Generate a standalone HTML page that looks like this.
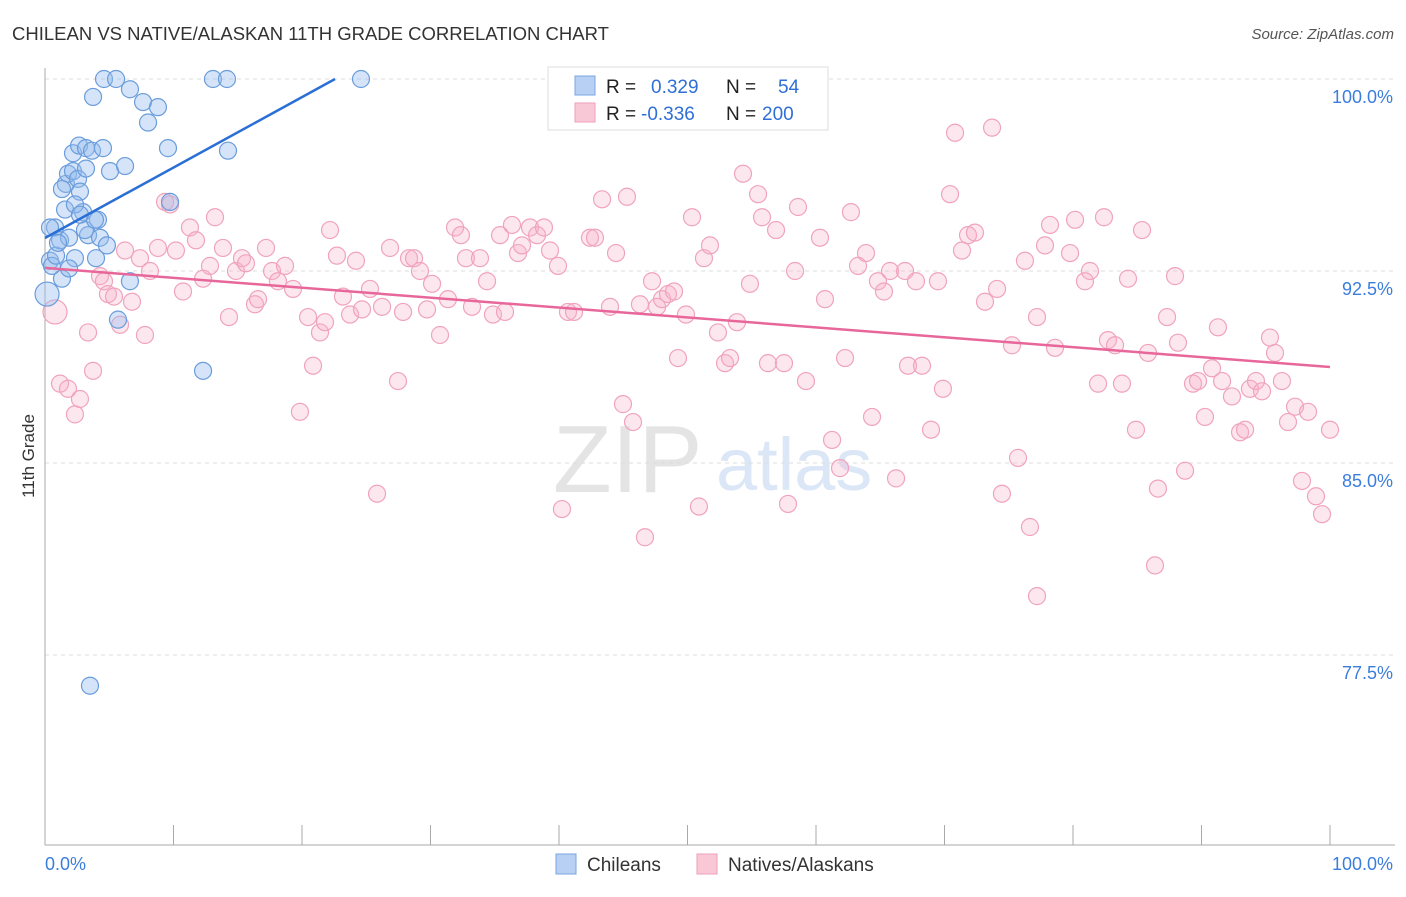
<!DOCTYPE html>
<html><head><meta charset="utf-8"><style>
body{margin:0;background:#fff;font-family:"Liberation Sans",sans-serif;}
svg text{font-family:"Liberation Sans",sans-serif;}
</style></head><body>
<svg id="chart" width="1406" height="892" xmlns="http://www.w3.org/2000/svg">
<text x="12" y="40" font-size="18.5" fill="#333">CHILEAN VS NATIVE/ALASKAN 11TH GRADE CORRELATION CHART</text>
<text x="1394" y="39" font-size="15" fill="#555" font-style="italic" text-anchor="end">Source: ZipAtlas.com</text>
<g>
<text x="553" y="492" font-size="96" fill="#e4e4e4" font-family="Liberation Serif,serif">ZIP</text>
<text x="716" y="490" font-size="74" fill="#dbe6f6">atlas</text>
</g>
<g id="grid"></g>
<g id="axes"></g>
<g id="pts"></g>
<g id="lines"></g>
<text transform="translate(34,456) rotate(-90)" font-size="17" fill="#333" text-anchor="middle">11th Grade</text>
<g>
<rect x="548" y="67" width="280" height="63" fill="#fff" stroke="#ddd"/>
<rect x="575" y="76" width="20" height="19" fill="#b8d0f4" stroke="#7aa4e0"/>
<rect x="575" y="103" width="20" height="19" fill="#f9c8d6" stroke="#ef9fb8"/>
<text x="606" y="93" font-size="19" fill="#222">R =</text>
<text x="651" y="93" font-size="19" fill="#2f6fd6">0.329</text>
<text x="726" y="93" font-size="19" fill="#222">N =</text>
<text x="778" y="93" font-size="19" fill="#2f6fd6">54</text>
<text x="606" y="120" font-size="19" fill="#222">R =</text>
<text x="641" y="120" font-size="19" fill="#2f6fd6">-0.336</text>
<text x="726" y="120" font-size="19" fill="#222">N =</text>
<text x="762" y="120" font-size="19" fill="#2f6fd6">200</text>
</g>
<g>
<rect x="556" y="854" width="20" height="20" fill="#b8d0f4" stroke="#7aa4e0"/>
<text x="587" y="871" font-size="19" fill="#333">Chileans</text>
<rect x="697" y="854" width="20" height="20" fill="#f9c8d6" stroke="#ef9fb8"/>
<text x="728" y="871" font-size="19" fill="#333">Natives/Alaskans</text>
</g>
</svg>
<script>
const yTicks=[100,92.5,85,77.5];
const yTickLabels=["100.0%","92.5%","85.0%","77.5%"];
const xLabels=["0.0%","100.0%"];
const blueX=[0.16,0.39,0.54,0.78,0.86,1.17,1.32,1.56,1.63,1.79,1.87,2.18,2.18,2.33,2.57,2.65,2.72,2.96,3.19,3.19,3.35,3.66,3.74,3.97,4.12,4.28,4.51,4.59,4.82,5.06,5.53,5.68,6.23,6.61,6.61,7.63,8.02,8.79,9.57,9.73,12.30,13.07,14.16,14.24,24.59,3.50,0.39,1.01,1.32,1.87,2.33,3.11,3.89,2.72];
const blueY=[91.6,92.9,92.7,94.2,93.1,93.7,92.2,94.9,95.9,96.3,93.8,97.1,96.4,93.0,96.1,97.4,95.6,94.8,96.5,97.3,93.9,97.2,99.3,93.0,94.5,93.8,97.3,100,93.5,96.4,100,90.6,96.6,99.6,92.1,99.1,98.3,98.9,97.3,95.2,88.6,100,100,97.2,100,76.3,94.2,93.6,95.7,92.6,95.1,94.1,94.5,94.7];
const pinkX=[0.78,1.17,1.79,2.33,2.72,3.35,3.74,4.28,4.59,4.90,5.37,5.84,6.23,6.77,7.39,7.78,8.17,8.79,9.34,9.73,10.19,10.74,11.28,11.75,12.30,12.84,13.23,13.85,14.32,14.86,15.33,15.64,16.34,16.58,17.20,17.67,18.13,18.68,19.30,19.84,20.47,20.86,21.40,21.79,22.18,22.72,23.19,23.74,24.20,24.67,25.29,25.84,26.23,26.85,27.47,27.86,28.33,28.72,29.18,29.73,30.12,30.74,31.36,31.91,32.37,32.76,33.23,33.85,34.40,34.86,35.41,35.80,36.34,36.81,37.12,37.74,38.29,38.83,39.30,39.92,40.23,40.70,41.17,42.41,42.80,43.35,43.97,44.44,44.98,45.29,45.76,46.30,46.69,47.24,47.63,48.02,48.48,48.95,49.26,49.88,50.35,50.89,51.28,51.75,52.37,52.92,53.31,53.85,54.32,54.86,55.49,55.80,56.26,56.89,57.51,57.82,58.37,58.60,59.22,60.31,60.70,61.25,61.87,62.26,62.72,63.27,63.89,64.36,64.82,65.29,65.76,66.23,66.93,67.16,67.78,68.25,68.95,69.49,69.88,70.43,70.82,71.36,71.83,72.37,73.15,73.70,74.09,74.47,75.25,75.72,76.26,76.65,77.20,77.20,77.82,78.21,78.60,79.77,80.16,80.93,81.32,81.95,82.41,82.72,83.27,83.81,84.28,84.90,85.37,85.84,86.38,86.61,87.32,87.94,88.17,88.72,89.34,89.73,90.27,90.82,91.28,91.60,92.37,93.00,93.39,93.77,94.24,94.71,95.33,95.72,96.26,96.73,97.28,97.82,98.29,98.91,99.38,100.0,60.16];
const pinkY=[90.9,88.1,87.9,86.9,87.5,90.1,88.6,92.3,92.1,91.6,91.5,90.4,93.3,91.3,93.0,90.0,92.5,93.4,95.2,95.1,93.3,91.7,94.2,93.7,92.2,92.7,94.6,93.4,90.7,92.5,93.0,92.8,91.2,91.4,93.4,92.5,92.1,92.7,91.8,87.0,90.7,88.8,90.1,90.5,94.1,93.1,91.5,90.8,92.9,91.0,91.8,83.8,91.1,93.4,88.2,90.9,93.0,93.0,92.5,91.0,92.0,90.0,91.4,94.2,93.9,93.0,91.1,93.0,92.1,90.8,93.9,90.9,94.3,93.2,93.5,94.2,93.9,94.2,93.3,92.7,83.2,90.9,90.9,93.8,93.8,95.3,91.1,93.2,87.3,95.4,86.6,91.2,82.1,92.1,91.1,91.4,91.6,91.7,89.1,90.8,94.6,83.3,93.0,93.5,90.1,88.9,89.1,90.5,96.3,92.0,95.5,94.6,88.9,94.1,88.9,83.4,92.5,95.0,88.2,93.8,91.4,85.9,84.8,89.1,94.8,92.7,93.2,86.8,92.1,91.7,92.5,84.4,92.5,88.8,92.1,88.8,86.3,92.1,87.9,95.5,97.9,93.3,93.9,94.0,91.3,98.1,91.8,83.8,89.6,85.2,92.9,82.5,79.8,90.7,93.5,94.3,89.5,93.2,94.5,92.1,92.5,88.1,94.6,89.8,89.6,88.1,92.2,86.3,94.1,89.3,81.0,84.0,90.7,92.3,89.7,84.7,88.1,88.2,86.8,88.7,90.3,88.2,87.6,86.2,86.3,87.9,88.2,87.8,89.9,89.3,88.2,86.6,87.2,84.3,87.0,83.7,83.0,86.3,98.8];
const bigBlue=[0];
const bigPink=[0];
const blueTrend=[93.79,100];
const blueTrendX=[0,22.57];
const pinkTrend=[92.62,88.75];
const pinkTrendX=[0,100];

const NS="http://www.w3.org/2000/svg";
const X0=45,X1=1330,Y100=79,PXPER=25.6;
const sx=v=>X0+(X1-X0)*v/100;
const sy=v=>Y100+(100-v)*PXPER;
function mk(tag,attrs,parent){const e=document.createElementNS(NS,tag);for(const k in attrs)e.setAttribute(k,attrs[k]);parent.appendChild(e);return e;}
const grid=document.getElementById('grid'),axes=document.getElementById('axes'),pts=document.getElementById('pts'),lines=document.getElementById('lines');
yTicks.forEach((t,i)=>{
  const l=mk('line',{x1:X0,x2:1395,y1:sy(t),y2:sy(t),stroke:'#ddd','stroke-dasharray':'4,4'},grid);
  
  
  const tx=mk('text',{x:1393,y:sy(t)+24,'font-size':18,fill:'#3b7ddd','text-anchor':'end'},grid);
  tx.textContent=yTickLabels[i];
  
  
});
const ya=mk('line',{x1:X0,x2:X0,y1:68,y2:845,stroke:'#aaa'},axes);


const xa=mk('line',{x1:X0,x2:1395,y1:845,y2:845,stroke:'#aaa'},axes);


for(let i=0;i<=10;i++){
  const tk=mk('line',{x1:sx(i*10),x2:sx(i*10),y1:825,y2:845,stroke:'#aaa'},axes);
  
  
}
[[0,'start',45],[100,'end',1393]].forEach((d,i)=>{
  const t=mk('text',{x:d[2],y:870,'font-size':18,fill:'#3b7ddd','text-anchor':d[1]},axes);
  t.textContent=xLabels[i];
  
  
});
pinkX.forEach((x,i)=>{
  const c=mk('circle',{cx:sx(x),cy:sy(pinkY[i]),r:bigPink.includes(i)?12:8.5,fill:'rgba(248,175,198,0.3)',stroke:'#f0a3bc','stroke-width':1.2},pts);
  
  
});
blueX.forEach((x,i)=>{
  const c=mk('circle',{cx:sx(x),cy:sy(blueY[i]),r:bigBlue.includes(i)?12:8.5,fill:'rgba(150,188,238,0.4)',stroke:'#6a9ddc','stroke-width':1.2},pts);
  
  
});
const bl=mk('line',{x1:sx(blueTrendX[0]),y1:sy(blueTrend[0]),x2:sx(blueTrendX[1]),y2:sy(blueTrend[1]),stroke:'#2a6fd6','stroke-width':2.5},lines);


const pl=mk('line',{x1:sx(pinkTrendX[0]),y1:sy(pinkTrend[0]),x2:sx(pinkTrendX[1]),y2:sy(pinkTrend[1]),stroke:'#e8679a','stroke-width':2.5},lines);


</script>
</body></html>
